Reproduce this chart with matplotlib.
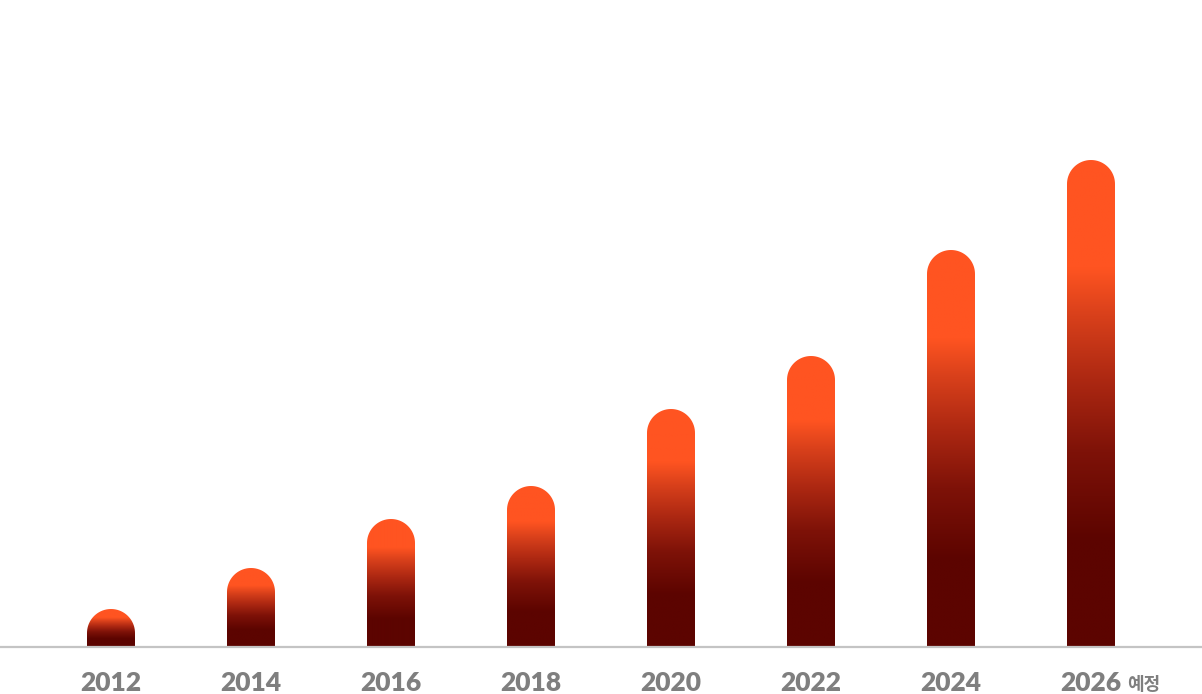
import matplotlib
matplotlib.use('Agg')
import matplotlib.pyplot as plt
import numpy as np
from matplotlib.colors import LinearSegmentedColormap
from matplotlib.path import Path
from matplotlib.patches import PathPatch

# ── Data (bar heights, arbitrary units) ─────────────────────────────────────
years = ['2012', '2014', '2016', '2018', '2020', '2022', '2024', '2026']
values = [38, 79, 128, 161, 238, 291, 397, 487]
suffix = '예정'          # appended to the last label

# ── Style ───────────────────────────────────────────────────────────────────
ORANGE = '#ff5421'
DARK = '#5c0400'
LABEL = '#7f7f7f'
BASE = '#c4c4c4'
cmap = LinearSegmentedColormap.from_list('bar', [
    (0.00, DARK), (0.22, DARK), (0.40, '#7e1208'), (0.55, '#ad2812'),
    (0.68, '#d8401b'), (0.78, ORANGE), (1.00, ORANGE)])

W, H = 1202, 694
fig = plt.figure(figsize=(W / 100, H / 100), dpi=100)
ax = fig.add_axes([0, 0, 1, 1])
ax.axis('off')
ax.set_xlim(-111 / 140, (W - 111) / 140)
ax.set_ylim(-47, H - 47)

bw = 48 / 140        # bar width in x units (index)
r_y = 24             # cap radius in y units


def capsule(x, h):
    """Bar outline with a half-round top (elliptic in data, round on screen)."""
    t = np.linspace(np.pi, 0, 40)
    ax_ = x + bw / 2 * np.cos(t)
    ay_ = (h - r_y) + r_y * np.sin(t)
    xs = np.concatenate([[x - bw / 2], ax_, [x + bw / 2, x - bw / 2]])
    ys = np.concatenate([[0], ay_, [0, 0]])
    return Path(np.column_stack([xs, ys]), closed=True)


grad = np.linspace(1, 0, 256).reshape(-1, 1)
for i, v in enumerate(values):
    patch = PathPatch(capsule(i, v), facecolor='none', edgecolor='none')
    ax.add_patch(patch)
    im = ax.imshow(grad, cmap=cmap, vmin=0, vmax=1, aspect='auto',
                   extent=(i - bw / 2, i + bw / 2, 0, v),
                   interpolation='bilinear', zorder=2)
    im.set_clip_path(patch)

ax.axhline(0, color=BASE, lw=1.6, zorder=3)

for i, y in enumerate(years):
    t = ax.text(i, -36, y, ha='center', va='center', fontsize=19,
                fontweight='heavy', color=LABEL, family=['Lato', 'DejaVu Sans'])
    if i == len(years) - 1:
        ax.annotate(suffix, xy=(1, 0.45), xycoords=t, xytext=(4, 0),
                    textcoords='offset points', ha='left', va='center',
                    fontsize=13, fontweight='bold', color=LABEL,
                    family=['Noto Sans CJK KR', 'DejaVu Sans'])

fig.savefig('out.png', dpi=100)
